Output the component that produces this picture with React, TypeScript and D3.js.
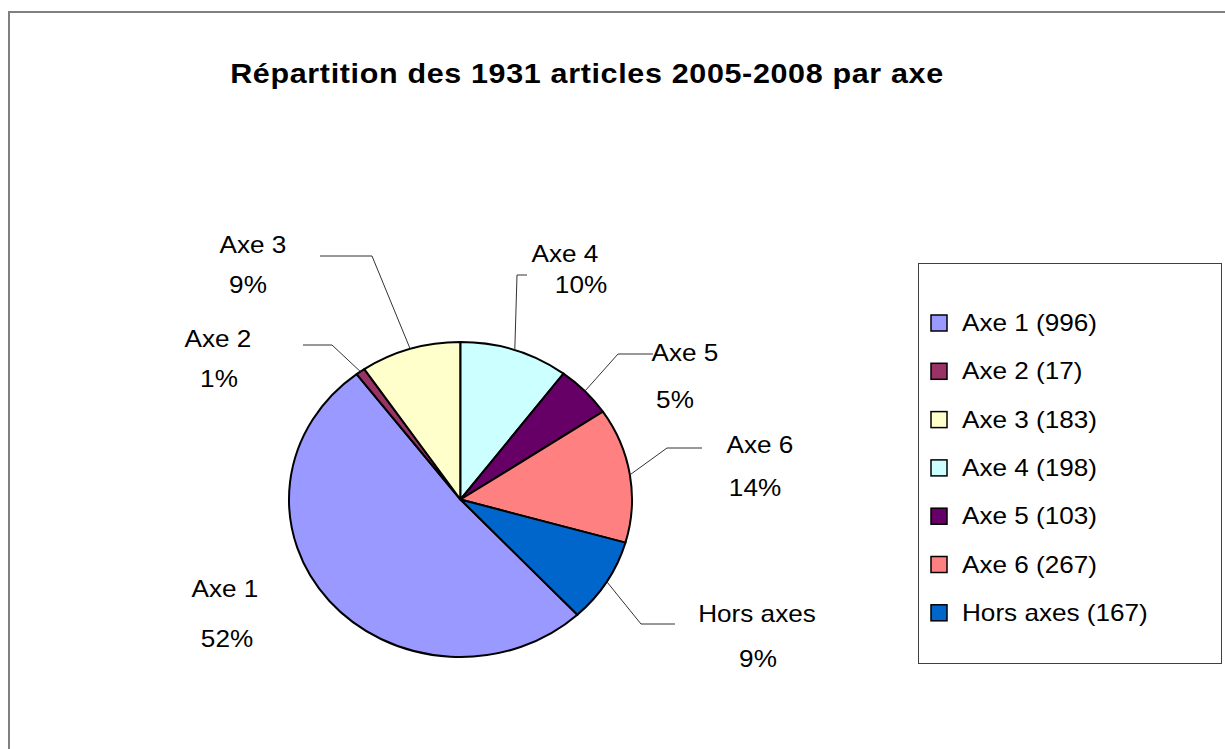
import React, { useEffect, useRef } from "react";
import * as d3 from "d3";

const title = "Répartition des 1931 articles 2005-2008 par axe";
const categories = ["Axe 1", "Axe 2", "Axe 3", "Axe 4", "Axe 5", "Axe 6", "Hors axes"];
const counts = [996, 17, 183, 198, 103, 267, 167];
const colors = ["#9999FF", "#993366", "#FFFFCC", "#CCFFFF", "#660066", "#FF8080", "#0066CC"];
const firstAtTop = "Axe 4"; // slice that starts at 12 o'clock

// hand-placed data labels (like Excel after dragging them)
const labelLayout = [
  { x1: 225, y1: 597, x2: 227, y2: 647, elbow: null, end: null },
  { x1: 218, y1: 347, x2: 219, y2: 387, elbow: [332, 345], end: [303, 345] },
  { x1: 253, y1: 253, x2: 248, y2: 293, elbow: [372, 256], end: [320, 256] },
  { x1: 565, y1: 262, x2: 581, y2: 293, elbow: [517, 275], end: [527, 275] },
  { x1: 685, y1: 361, x2: 675, y2: 408, elbow: [618, 354], end: [653, 354] },
  { x1: 760, y1: 453, x2: 755, y2: 496, elbow: [667, 448], end: [702, 448] },
  { x1: 757, y1: 622, x2: 758, y2: 667, elbow: [641, 624], end: [675, 624] },
];

function App() {
  const svgRef = useRef(null);
  const [width, height] = [1225, 749];
  const font = "'Liberation Sans', Arial, sans-serif";
  const cx = 460.5, cy = 499.5, r = 157.5;
  const stretch = 171.5 / 157.5; // the whole picture is a bit wider than tall

  useEffect(() => {
    drawChart();
  }, []);

  // text squeezed the same way as the pie
  const addText = (sel, x, y, str, size, anchor = "middle", bold = false, spacing = 0) =>
    sel
      .append("text")
      .attr("transform", `translate(${x},${y}) scale(${stretch},1)`)
      .attr("text-anchor", anchor)
      .attr("font-family", font)
      .attr("font-size", size)
      .attr("font-weight", bold ? "bold" : "normal")
      .attr("letter-spacing", spacing)
      .attr("fill", "#000")
      .text(str);

  const drawChart = () => {
    const svg = d3.select(svgRef.current).attr("width", width).attr("height", height);
    svg.selectAll("*").remove();

    // chart frame (runs off the right and bottom edges)
    svg
      .append("rect")
      .attr("x", 9)
      .attr("y", 12)
      .attr("width", 1240)
      .attr("height", 760)
      .attr("fill", "#fff")
      .attr("stroke", "#808080")
      .attr("stroke-width", 2);

    addText(svg, 587, 83, title, 28, "middle", true, 0.6);

    const total = d3.sum(counts);
    const offset = (d3.sum(counts.slice(0, categories.indexOf(firstAtTop))) / total) * 2 * Math.PI;
    const pie = d3
      .pie()
      .sort(null)
      .startAngle(-offset)
      .endAngle(2 * Math.PI - offset);
    const arcs = pie(counts);
    const arc = d3.arc().innerRadius(0).outerRadius(r);

    const g = svg.append("g").attr("transform", `translate(${cx},${cy}) scale(${stretch},1)`);
    g.selectAll("path")
      .data(arcs)
      .join("path")
      .attr("d", arc)
      .attr("fill", (d, i) => colors[i])
      .attr("stroke", "#000")
      .attr("stroke-width", 2)
      .attr("stroke-linejoin", "round")
      .attr("vector-effect", "non-scaling-stroke");

    // leader lines from the slice edge
    const edge = (d) => {
      const a = (d.startAngle + d.endAngle) / 2;
      return [cx + r * stretch * Math.sin(a), cy - r * Math.cos(a)];
    };
    const line = d3.line();
    arcs.forEach((d, i) => {
      const lay = labelLayout[i];
      if (!lay.elbow) return;
      svg
        .append("path")
        .attr("d", line([edge(d), lay.elbow, lay.end]))
        .attr("fill", "none")
        .attr("stroke", "#333")
        .attr("stroke-width", 1);
    });

    // data labels
    const pct = (v) => `${Math.round((v / total) * 100)}%`;
    arcs.forEach((d, i) => {
      const lay = labelLayout[i];
      addText(svg, lay.x1, lay.y1, categories[i], 24);
      addText(svg, lay.x2, lay.y2, pct(d.data), 24);
    });

    // legend
    const legend = svg.append("g");
    legend
      .append("rect")
      .attr("x", 918.5)
      .attr("y", 263.5)
      .attr("width", 303)
      .attr("height", 400)
      .attr("fill", "#fff")
      .attr("stroke", "#404040")
      .attr("stroke-width", 1);

    const rowY = d3
      .scaleLinear()
      .domain([0, categories.length - 1])
      .range([331, 331 + 48.3 * (categories.length - 1)]);

    categories.forEach((c, i) => {
      legend
        .append("rect")
        .attr("x", 931)
        .attr("y", rowY(i) - 16)
        .attr("width", 16)
        .attr("height", 16)
        .attr("fill", colors[i])
        .attr("stroke", "#000")
        .attr("stroke-width", 1.5);
      addText(legend, 962, rowY(i), `${c} (${counts[i]})`, 24, "start");
    });
  };

  return (
    <div>
      <svg ref={svgRef} style={{ position: "absolute", left: 0, top: 0, display: "block" }}></svg>
    </div>
  );
}

export default App;
